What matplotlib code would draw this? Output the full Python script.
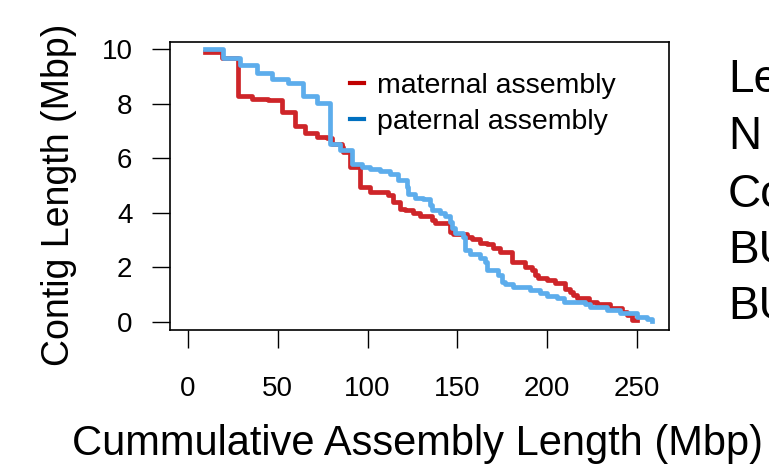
import matplotlib
matplotlib.use("Agg")
import matplotlib.pyplot as plt
from matplotlib.lines import Line2D

plt.rcParams['font.family'] = ['Liberation Sans', 'DejaVu Sans']

# Cumulative assembly length (Mbp) at which each contig-length step starts, and contig length (Mbp)
maternal_x = [9.5, 18.8, 28.0, 35.4, 44.7, 52.2, 59.6, 65.1, 71.6, 77.2, 80.0, 85.6, 86.5, 90.2,
              95.8, 101.3, 111.5, 114.3, 118.0, 120.8, 125.5, 129.2, 135.7, 137.5, 145.9, 147.7,
              155.2, 158.0, 162.6, 166.3, 170.0, 173.7, 180.2, 187.6, 191.3, 193.2, 195.0, 199.7,
              204.3, 209.9, 212.7, 214.6, 216.5, 223.0, 227.6, 235.0, 241.5, 244.3, 247.1, 249.9]
maternal_y = [9.90, 9.66, 8.30, 8.19, 8.13, 7.70, 7.20, 6.91, 6.79, 6.73, 6.52, 6.42, 6.24, 5.69,
              4.96, 4.77, 4.65, 4.40, 4.16, 4.10, 3.98, 3.88, 3.74, 3.62, 3.31, 3.22,
              3.13, 3.03, 2.90, 2.85, 2.70, 2.58, 2.21, 2.03, 1.90, 1.72, 1.60, 1.54,
              1.42, 1.23, 1.11, 0.99, 0.90, 0.74, 0.66, 0.50, 0.38, 0.26, 0.07, 0.07]

paternal_x = [9.5, 19.7, 29.0, 38.2, 46.6, 55.9, 64.2, 71.6, 79.1, 84.6, 91.1, 96.7, 101.3, 106.9,
              112.5, 117.1, 121.8, 122.7, 126.4, 131.0, 134.7, 135.7, 140.3, 143.1, 145.9, 146.8,
              148.7, 153.3, 154.2, 157.0, 162.6, 165.4, 166.3, 172.8, 174.7, 176.5, 181.1, 190.4,
              196.0, 199.7, 205.3, 209.3, 221.0, 223.8, 233.1, 240.5, 249.9, 255.4, 258.2]
paternal_y = [9.99, 9.66, 9.41, 9.13, 8.92, 8.74, 8.28, 8.03, 6.52, 6.30, 5.78, 5.69, 5.62, 5.55,
              5.42, 5.20, 4.95, 4.71, 4.53, 4.50, 4.29, 4.10, 3.98, 3.90, 3.68, 3.43,
              3.25, 3.13, 2.64, 2.51, 2.33, 2.21, 1.90, 1.72, 1.48, 1.39, 1.29, 1.17,
              1.05, 0.95, 0.87, 0.74, 0.68, 0.56, 0.44, 0.32, 0.19, 0.10, 0.05]

series_labels = ['maternal assembly', 'paternal assembly']
x_ticks = [0, 50, 100, 150, 200, 250]
y_ticks = [0, 2, 4, 6, 8, 10]
side_text = ['Le', 'N', 'Co', 'BU', 'BU']

line_colors = ['#CE2529', '#5DADEC']
legend_colors = ['#C00000', '#0070C0']

fig = plt.figure(figsize=(7.69, 4.73), dpi=100)
ax = fig.add_axes([170 / 769, 143 / 473, 499 / 769, 288 / 473])

ax.step(maternal_x, maternal_y, where='post', color=line_colors[0], lw=3.4, zorder=2)
ax.step(paternal_x, paternal_y, where='post', color=line_colors[1], lw=3.4, zorder=3)

ax.set_xlim(-10, 267.8)
ax.set_ylim(-0.29, 10.26)
ax.set_xticks(x_ticks)
ax.set_yticks(y_ticks)
ax.tick_params(axis='both', direction='out', length=13, width=1.0, labelsize=20, color='black')
ax.tick_params(axis='x', pad=20)
ax.tick_params(axis='y', pad=14)
for s in ax.spines.values():
    s.set_linewidth(1.2)

ax.set_xlabel('Cummulative Assembly Length (Mbp)', fontsize=30)
ax.set_ylabel('Contig Length (Mbp)', fontsize=27)
ax.xaxis.set_label_coords(0.495, -0.325)
ax.yaxis.set_label_coords(-0.187, 0.47)

handles = [Line2D([], [], color=c, lw=3) for c in legend_colors]
ax.legend(handles, series_labels, loc='upper left', bbox_to_anchor=(0.361, 0.891),
          frameon=False, fontsize=20.5, handlelength=0.5, handletextpad=0.45,
          labelspacing=0.34, borderpad=0, borderaxespad=0)

ys = [80, 137, 195, 251, 307]
for t, y in zip(side_text, ys):
    fig.text(728 / 769, 1 - y / 473, t, fontsize=33, va='center', ha='left')

fig.savefig('out.png', dpi=100)
